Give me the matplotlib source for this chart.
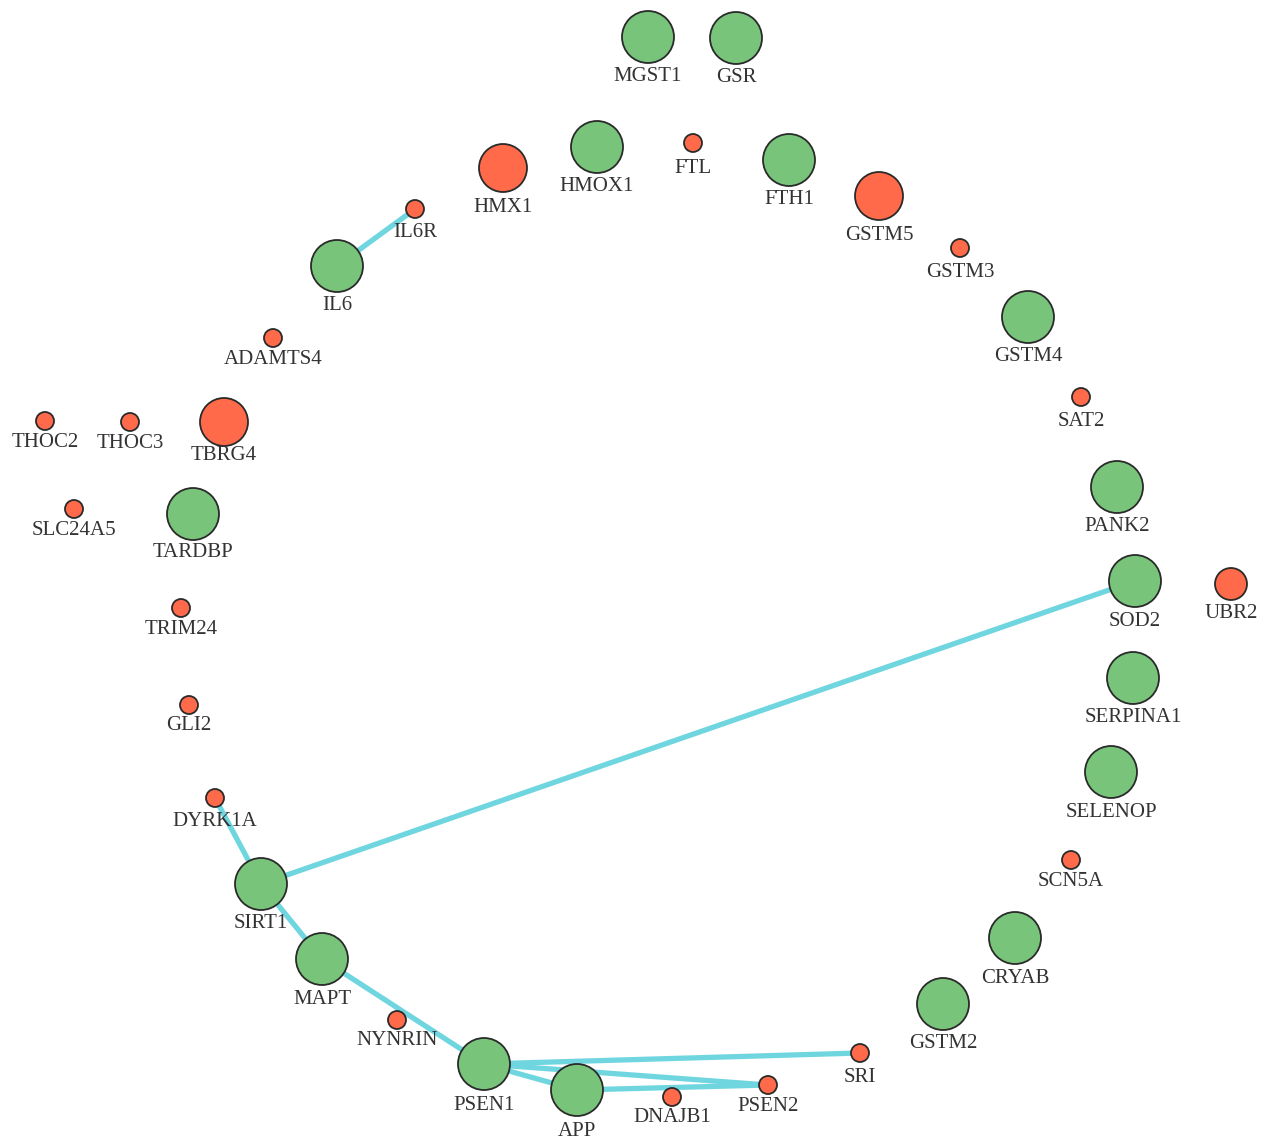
import matplotlib.pyplot as plt
from matplotlib.patches import Circle

# node name, position (pixel space of the original layout), label y, kind
names = ["MGST1", "GSR", "HMOX1", "FTL", "FTH1", "HMX1", "GSTM5", "IL6R", "GSTM3",
         "IL6", "GSTM4", "ADAMTS4", "SAT2", "THOC2", "THOC3", "TBRG4", "PANK2",
         "SLC24A5", "TARDBP", "SOD2", "UBR2", "TRIM24", "SERPINA1", "GLI2",
         "SELENOP", "DYRK1A", "SCN5A", "SIRT1", "CRYAB", "MAPT", "GSTM2",
         "NYNRIN", "SRI", "PSEN1", "APP", "DNAJB1", "PSEN2"]
node_x = [648, 736, 597, 693, 789, 503, 879, 415, 960,
          337, 1028, 273, 1081, 45, 130, 224, 1117,
          74, 193, 1135, 1231, 181, 1133, 189,
          1111, 215, 1071, 261, 1015, 322, 943,
          397, 860, 484, 577, 672, 768]
node_y = [37, 38, 147, 143, 160, 168, 196, 209, 248,
          266, 317, 338, 397, 421, 422, 422, 487,
          509, 514, 581, 584, 608, 678, 705,
          772, 798, 860, 884, 938, 959, 1004,
          1020, 1053, 1064, 1090, 1097, 1085]
label_y = [75, 76, 185, 167, 198, 206, 234, 231, 271,
           304, 355, 358, 420, 441, 442, 454, 525,
           529, 551, 620, 612, 628, 716, 724,
           811, 820, 880, 922, 977, 998, 1042,
           1039, 1076, 1104, 1130, 1116, 1105]
# g = green large, R = red large, m = red medium, r = red small
kinds = ["g", "g", "g", "r", "g", "R", "R", "r", "r",
         "g", "g", "r", "r", "r", "r", "R", "g",
         "r", "g", "g", "m", "r", "g", "r",
         "g", "r", "r", "g", "g", "g", "g",
         "r", "r", "g", "g", "r", "r"]

edges = [("IL6R", "IL6"), ("DYRK1A", "SIRT1"), ("SIRT1", "SOD2"), ("SIRT1", "MAPT"),
         ("MAPT", "PSEN1"), ("PSEN1", "SRI"), ("PSEN1", "PSEN2"), ("PSEN1", "APP"),
         ("APP", "PSEN2")]

radius = {"g": 26, "R": 24, "m": 16, "r": 9}
fill = {"g": "#77c47a", "R": "#ff6a4a", "m": "#ff6a4a", "r": "#ff6a4a"}

fig = plt.figure(figsize=(12.77, 11.42), dpi=100)
ax = fig.add_axes([0, 0, 1, 1])
ax.set_xlim(0, 1277)
ax.set_ylim(1142, 0)
ax.set_aspect("equal")
ax.axis("off")

idx = {n: i for i, n in enumerate(names)}
for a, b in edges:
    i, j = idx[a], idx[b]
    ax.plot([node_x[i], node_x[j]], [node_y[i], node_y[j]], color="#6fd6e0",
            lw=3.8, solid_capstyle="round", zorder=1)

for i, n in enumerate(names):
    k = kinds[i]
    ax.add_patch(Circle((node_x[i], node_y[i]), radius[k], facecolor=fill[k],
                        edgecolor="#2a2a2a", lw=1.3, zorder=2))
    ax.text(node_x[i], label_y[i] + 1.5, n, ha="center", va="center", fontsize=15,
            family="Liberation Serif", color="#333333", zorder=3)

fig.savefig("out.png", dpi=100, facecolor="white")
